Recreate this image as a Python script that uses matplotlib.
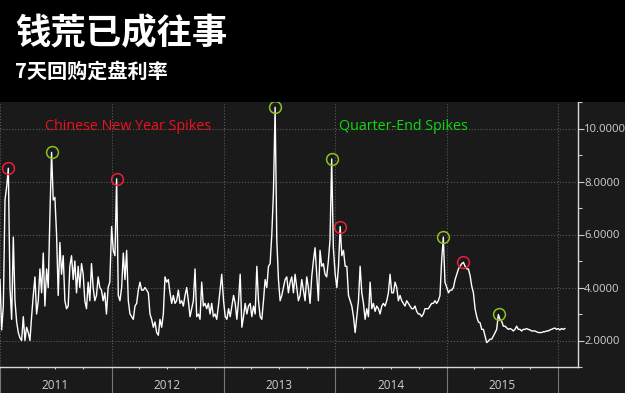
import matplotlib
matplotlib.use('Agg')
import matplotlib.pyplot as plt
import matplotlib.dates as mdates
from matplotlib.ticker import MultipleLocator, FuncFormatter
from matplotlib.patches import Rectangle
import pandas as pd

# 7-day repo fixing rate (about 1.6 px per sample)
rate_2011 = [4.3, 2.4, 3.3, 7.3, 7.8, 8.5, 4.0, 2.8, 5.9, 3.5,
             2.7, 2.3, 2.1, 2.0, 2.9, 2.0, 2.5, 2.3, 2.0, 2.9,
             3.7, 4.4, 3.0, 3.5, 4.7, 3.8, 5.3, 3.3, 4.7, 4.0,
             6.7, 9.1, 7.3, 7.4, 6.0, 3.7, 5.7, 4.5, 5.2, 3.5,
             3.2, 3.3, 4.8, 5.2, 4.3, 5.0, 3.8, 4.8, 4.0, 4.9,
             4.5, 3.5, 3.2, 4.2, 3.5, 4.9, 4.0, 3.5, 3.7, 4.4,
             4.0, 3.9, 3.5, 3.8, 3.0, 4.0, 4.2]
rate_2012 = [6.3, 5.4, 5.2, 8.1, 3.7, 3.5, 4.0, 5.3, 4.3, 5.4,
             3.5, 3.0, 2.9, 2.8, 3.3, 3.4, 3.9, 4.2, 3.9, 3.9,
             4.0, 3.9, 3.8, 3.0, 2.8, 2.5, 2.7, 2.3, 2.2, 2.8,
             2.5, 3.0, 4.4, 4.2, 4.3, 3.8, 3.4, 3.7, 3.4, 3.5,
             3.9, 3.4, 3.5, 3.3, 3.7, 4.0, 3.5, 2.9, 3.2, 3.5,
             4.7, 2.9, 3.0, 2.8, 4.2, 3.3, 3.4, 3.2, 3.4, 3.0,
             3.4, 2.9, 3.0, 2.8, 3.3, 3.9, 4.5]
rate_2013 = [3.5, 2.9, 2.8, 3.2, 2.9, 3.3, 3.7, 3.4, 2.8, 3.5,
             4.5, 2.5, 2.9, 3.4, 3.0, 3.3, 3.4, 2.9, 3.3, 3.0,
             4.8, 3.5, 2.9, 2.8, 3.5, 4.3, 4.0, 4.8, 4.9, 6.0,
             7.6, 10.8, 5.8, 4.3, 3.5, 3.7, 4.0, 4.3, 4.4, 3.8,
             4.2, 4.4, 3.8, 4.5, 4.0, 3.5, 3.7, 4.3, 3.9, 3.5,
             4.4, 4.0, 3.4, 4.4, 5.0, 5.5, 4.5, 3.5, 5.4, 4.8,
             4.9, 4.5, 4.4, 5.0, 5.8, 8.85, 5.5]
rate_2014 = [4.5, 4.0, 4.8, 6.3, 5.2, 5.4, 4.8, 4.8, 3.7, 3.5,
             3.3, 2.9, 2.3, 2.9, 3.5, 4.8, 3.8, 3.4, 2.8, 3.2,
             2.9, 4.2, 3.2, 3.4, 3.1, 3.3, 3.2, 3.0, 3.3, 3.4,
             3.3, 3.5, 3.8, 4.5, 3.8, 3.8, 4.2, 4.0, 3.5, 3.7,
             3.5, 3.4, 3.3, 3.5, 3.4, 3.3, 3.2, 3.2, 3.3, 3.1,
             3.0, 3.0, 2.9, 3.0, 3.2, 3.2, 3.2, 3.3, 3.4, 3.4,
             3.5, 3.4, 3.5, 3.7, 5.0, 5.9, 4.2]
rate_2015 = [4.0, 3.8, 3.9, 3.9, 4.0, 4.3, 4.5, 4.7, 4.8, 4.9,
             4.95, 4.8, 4.7, 4.7, 4.45, 4.05, 3.8, 3.2, 2.9, 2.7,
             2.67, 2.42, 2.42, 2.17, 1.92, 1.98, 2.05, 2.05, 2.17, 2.29,
             2.42, 2.98, 2.79, 2.73, 2.54, 2.54, 2.48, 2.42, 2.45, 2.42,
             2.36, 2.42, 2.54, 2.42, 2.42, 2.36, 2.42, 2.42, 2.45, 2.42,
             2.40, 2.36, 2.36, 2.36, 2.33, 2.30, 2.30, 2.30, 2.33, 2.33,
             2.36, 2.36, 2.40, 2.42, 2.45, 2.47, 2.42, 2.45, 2.40, 2.45,
             2.42, 2.45]
segments = [('2011-01-01', '2011-12-26', rate_2011),
            ('2012-01-01', '2012-12-26', rate_2012),
            ('2013-01-01', '2013-12-26', rate_2013),
            ('2014-01-01', '2014-12-26', rate_2014),
            ('2015-01-01', '2016-01-22', rate_2015)]

cny_dates = ['2011-01-28', '2012-01-17', '2014-01-18', '2015-02-22']
cny_vals = [8.5, 8.1, 6.3, 4.95]
qe_dates = ['2011-06-19', '2013-06-18', '2013-12-20', '2014-12-18', '2015-06-20']
qe_vals = [9.1, 10.8, 8.85, 5.9, 3.0]

y_ticks = [2, 4, 6, 8, 10]

bg = '#1a1a1a'
cjk = ['Noto Sans CJK SC', 'DejaVu Sans']

dates = pd.DatetimeIndex([])
vals = []
for start, end, v in segments:
    dates = dates.append(pd.date_range(start, end, periods=len(v)))
    vals += v

fig = plt.figure(figsize=(6.25, 3.93), dpi=100, facecolor=bg)
fig.patches.append(Rectangle((0, 1 - 102 / 393), 1, 102 / 393, transform=fig.transFigure,
                             facecolor='black', edgecolor='none', zorder=0))
fig.text(15 / 625, 1 - 34 / 393, '钱荒已成往事', family=cjk, fontsize=25.5,
         weight='heavy', color='white', va='center')
fig.text(15 / 625, 1 - 71 / 393, '7天回购定盘利率', family=cjk, fontsize=14.5,
         weight='bold', color='white', va='center')

ax = fig.add_axes([0, 26 / 393, 578 / 625, 265 / 393])
ax.set_facecolor(bg)
ax.plot(dates, vals, color='white', lw=1.0, zorder=3)
ax.plot(pd.to_datetime(cny_dates), cny_vals, 'o', ms=8.5, mfc='none', mec='#e8203a', mew=1.1, zorder=4)
ax.plot(pd.to_datetime(qe_dates), qe_vals, 'o', ms=8.5, mfc='none', mec='#8cc21e', mew=1.1, zorder=4)

ax.text(45 / 578, 0.909, 'Chinese New Year Spikes', transform=ax.transAxes, color='#f0101c',
        family='Open Sans', fontsize=10.3, va='center')
ax.text(339 / 578, 0.909, 'Quarter-End Spikes', transform=ax.transAxes, color='#10d810',
        family='Open Sans', fontsize=10.3, va='center')

ax.set_ylim(1.0, 11.0)
ax.set_xlim(pd.Timestamp('2011-01-01'), pd.Timestamp('2016-03-05'))

ax.yaxis.tick_right()
ax.set_yticks(y_ticks)
ax.yaxis.set_minor_locator(MultipleLocator(1))
ax.yaxis.set_major_formatter(FuncFormatter(lambda v, p: '%.4f' % v))
ax.tick_params(axis='y', which='major', length=4, width=0.8, color='#cccccc', pad=0.5,
               labelcolor='#d0d0d0', labelsize=8.1)
ax.tick_params(axis='y', which='minor', length=3, width=0.8, color='#cccccc')

ax.xaxis.set_major_locator(mdates.YearLocator())
ax.xaxis.set_major_formatter(FuncFormatter(lambda v, p: ''))
ax.xaxis.set_minor_locator(mdates.MonthLocator((4, 7, 10)))
ax.xaxis.set_minor_formatter(FuncFormatter(
    lambda v, p: str(mdates.num2date(v).year) if mdates.num2date(v).month == 7 else ''))
ax.tick_params(axis='x', which='major', length=19, width=0.8, color='#777777')
ax.tick_params(axis='x', which='minor', length=1.5, width=0.8, color='#cccccc', pad=7,
               labelcolor='#d0d0d0', labelsize=8.5)
for lab in ax.get_xticklabels(minor=True) + ax.get_yticklabels():
    lab.set_family('Open Sans')

ax.grid(which='major', axis='both', color='#5a5a5a', linestyle=':', linewidth=0.8)
for s in ['left', 'top']:
    ax.spines[s].set_visible(False)
for s in ['right', 'bottom']:
    ax.spines[s].set_color('#d8d8d8')
    ax.spines[s].set_linewidth(1.0)

fig.savefig('out.png', dpi=100, facecolor=fig.get_facecolor())
